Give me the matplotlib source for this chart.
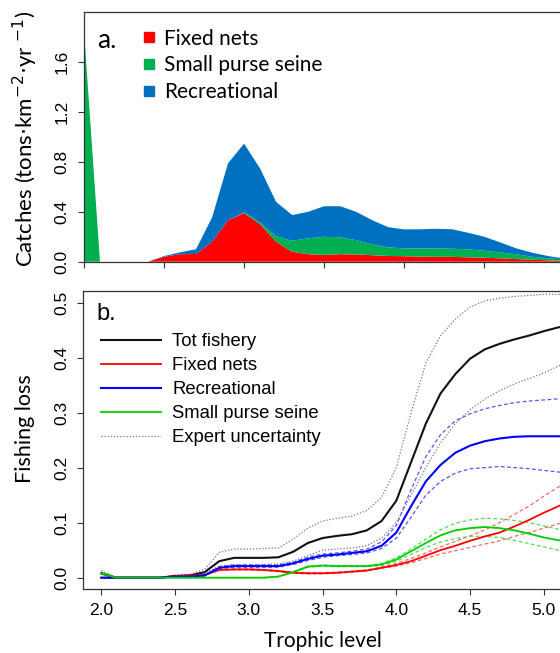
import matplotlib
matplotlib.use("Agg")
import matplotlib.pyplot as plt
from matplotlib.lines import Line2D
import numpy as np

# ---------------- data ----------------
# Panel a: catches by trophic level (stacked)
tl_a = [2.0, 2.1, 2.2, 2.3, 2.4, 2.5, 2.6, 2.7, 2.8, 2.9, 3.0, 3.1, 3.2, 3.3, 3.4, 3.5,
        3.6, 3.7, 3.8, 3.9, 4.0, 4.1, 4.2, 4.3, 4.4, 4.5, 4.6, 4.7, 4.8, 4.9, 5.0, 5.1]
fixed_nets = [0, 0, 0, 0, 0, 0.04, 0.06, 0.062, 0.16, 0.333, 0.39, 0.30, 0.16, 0.08, 0.06, 0.055,
              0.06, 0.058, 0.052, 0.046, 0.044, 0.041, 0.040, 0.039, 0.035, 0.032, 0.027, 0.021,
              0.016, 0.011, 0.007, 0.004]
purse_seine = [1.85, 0, 0, 0, 0, 0, 0, 0, 0, 0, 0.005, 0.015, 0.045, 0.088, 0.127, 0.145,
               0.135, 0.115, 0.087, 0.069, 0.063, 0.066, 0.067, 0.065, 0.064, 0.056, 0.048,
               0.038, 0.024, 0.016, 0.011, 0.006]
recreational = [0, 0, 0, 0, 0, 0.005, 0.015, 0.038, 0.195, 0.457, 0.552, 0.432, 0.275, 0.206,
                0.213, 0.245, 0.25, 0.227, 0.194, 0.162, 0.152, 0.153, 0.157, 0.156, 0.133,
                0.112, 0.08, 0.048, 0.032, 0.018, 0.007, 0.005]
labels_a = ["Fixed nets", "Small purse seine", "Recreational"]
colors_a = ["#FF0000", "#00B050", "#0070C0"]

# Panel b: fishing loss by trophic level
tl_b = [2.0, 2.1, 2.2, 2.3, 2.4, 2.5, 2.6, 2.7, 2.8, 2.9, 3.0, 3.1, 3.2, 3.3, 3.4, 3.5, 3.6,
        3.7, 3.8, 3.9, 4.0, 4.1, 4.2, 4.3, 4.4, 4.5, 4.6, 4.7, 4.8, 4.9, 5.0, 5.1, 5.2]
tot = [0.008, 0, 0, 0, 0, 0.003, 0.004, 0.01, 0.03, 0.036, 0.036, 0.036, 0.037, 0.047, 0.063,
       0.072, 0.076, 0.079, 0.086, 0.103, 0.14, 0.21, 0.28, 0.335, 0.37, 0.398, 0.415, 0.425,
       0.433, 0.44, 0.448, 0.455, 0.46]
tot_hi = [0.013, 0, 0, 0, 0, 0.005, 0.006, 0.015, 0.046, 0.052, 0.052, 0.053, 0.054, 0.07, 0.09,
          0.103, 0.108, 0.112, 0.122, 0.146, 0.2, 0.3, 0.39, 0.44, 0.47, 0.492, 0.503, 0.508,
          0.511, 0.513, 0.515, 0.515, 0.515]
tot_lo = [0.006, 0, 0, 0, 0, 0.002, 0.003, 0.008, 0.021, 0.024, 0.024, 0.024, 0.025, 0.03, 0.04,
          0.05, 0.052, 0.054, 0.058, 0.072, 0.1, 0.15, 0.2, 0.245, 0.28, 0.305, 0.325, 0.34,
          0.352, 0.362, 0.372, 0.385, 0.395]
rec = [0, 0, 0, 0, 0, 0.002, 0.002, 0.004, 0.018, 0.021, 0.021, 0.021, 0.021, 0.026, 0.034, 0.04,
       0.042, 0.045, 0.048, 0.058, 0.082, 0.13, 0.175, 0.205, 0.227, 0.24, 0.248, 0.253, 0.256,
       0.257, 0.257, 0.257, 0.257]
rec_hi = [0, 0, 0, 0, 0, 0.002, 0.003, 0.005, 0.02, 0.023, 0.023, 0.023, 0.023, 0.028, 0.037,
          0.043, 0.045, 0.048, 0.052, 0.065, 0.095, 0.16, 0.22, 0.26, 0.285, 0.298, 0.307, 0.313,
          0.318, 0.321, 0.323, 0.325, 0.326]
rec_lo = [0, 0, 0, 0, 0, 0.002, 0.002, 0.003, 0.016, 0.019, 0.019, 0.019, 0.019, 0.024, 0.031,
          0.037, 0.04, 0.042, 0.045, 0.053, 0.072, 0.11, 0.15, 0.175, 0.19, 0.198, 0.2, 0.202,
          0.2, 0.198, 0.195, 0.192, 0.19]
fix = [0, 0, 0, 0, 0, 0.003, 0.004, 0.005, 0.014, 0.015, 0.015, 0.014, 0.012, 0.009, 0.008, 0.008,
       0.009, 0.011, 0.013, 0.018, 0.023, 0.03, 0.04, 0.05, 0.058, 0.067, 0.075, 0.082, 0.093,
       0.105, 0.118, 0.13, 0.143]
fix_hi = [0, 0, 0, 0, 0, 0.003, 0.004, 0.005, 0.015, 0.016, 0.016, 0.015, 0.013, 0.01, 0.009,
          0.009, 0.01, 0.012, 0.014, 0.019, 0.026, 0.035, 0.045, 0.056, 0.066, 0.076, 0.087, 0.1,
          0.115, 0.13, 0.148, 0.165, 0.182]
fix_lo = [0, 0, 0, 0, 0, 0.003, 0.004, 0.005, 0.013, 0.014, 0.014, 0.013, 0.011, 0.008, 0.007,
          0.007, 0.008, 0.01, 0.012, 0.017, 0.021, 0.027, 0.035, 0.043, 0.049, 0.055, 0.061,
          0.067, 0.075, 0.082, 0.09, 0.098, 0.106]
sps = [0.008, 0, 0, 0, 0, 0, 0, 0, 0, 0, 0, 0, 0.002, 0.01, 0.02, 0.022, 0.021, 0.021, 0.021,
       0.024, 0.033, 0.048, 0.063, 0.077, 0.086, 0.09, 0.092, 0.09, 0.086, 0.08, 0.073, 0.068, 0.063]
sps_hi = [0.01, 0, 0, 0, 0, 0, 0, 0, 0, 0, 0, 0, 0.002, 0.011, 0.021, 0.023, 0.022, 0.022, 0.022,
          0.026, 0.036, 0.052, 0.07, 0.087, 0.099, 0.105, 0.108, 0.107, 0.104, 0.1, 0.094, 0.088, 0.082]
sps_lo = [0.006, 0, 0, 0, 0, 0, 0, 0, 0, 0, 0, 0, 0.002, 0.009, 0.019, 0.021, 0.02, 0.02, 0.02,
          0.022, 0.03, 0.042, 0.055, 0.065, 0.071, 0.075, 0.075, 0.073, 0.068, 0.062, 0.056, 0.05, 0.045]
labels_b = ["Tot fishery", "Fixed nets", "Recreational", "Small purse seine", "Expert uncertainty"]

yticks_a = [0.0, 0.4, 0.8, 1.2, 1.6]
yticks_b = [0.0, 0.1, 0.2, 0.3, 0.4, 0.5]
xticks = [2.0, 2.5, 3.0, 3.5, 4.0, 4.5, 5.0]

# ---------------- figure ----------------
W, H = 560, 653
fig = plt.figure(figsize=(W / 100, H / 100), dpi=100)

def fx(px):
    return px / W

def fy(py):
    return 1 - py / H

CAL = ["Lato", "DejaVu Sans"]
ARI = ["Liberation Sans", "DejaVu Sans"]
spine_c = "#333333"

ax1 = fig.add_axes([fx(84), fy(261.7), fx(592 - 84), (261.7 - 12.3) / H])
ax2 = fig.add_axes([fx(83.2), fy(589), fx(592 - 83.2), (589 - 291) / H])

# ---- panel a ----
ax1.stackplot(tl_a, fixed_nets, purse_seine, recreational, colors=colors_a, lw=0)
ax1.set_xlim(2.0, 2.0 + (592 - 84.3) / 160)
ax1.set_ylim(0, 2.0)
ax1.set_xticks(xticks)
ax1.set_xticklabels([])
ax1.set_yticks(yticks_a)
ax1.set_yticklabels([f"{v:.1f}" for v in yticks_a], rotation=90, va="center",
                    family=ARI, fontsize=12.5)

handles_a = [Line2D([], [], marker="s", ls="none", color=c, markersize=7.5) for c in colors_a]
ax1.legend(handles_a, labels_a, loc="upper left", bbox_to_anchor=(0.1136, 0.935),
           frameon=False, prop={"family": CAL, "size": 15}, handlelength=0.7,
           handletextpad=0.37, labelspacing=0.33, borderpad=0, borderaxespad=0)
ax1.text(fx(107), fy(40), "a.", transform=fig.transFigure, ha="center", va="center",
         family=CAL, fontsize=19)

# ---- panel b ----
ax2.plot(tl_b, tot_hi, color="#777777", lw=0.9, ls=(0, (1, 1.5)))
ax2.plot(tl_b, tot_lo, color="#777777", lw=0.9, ls=(0, (1, 1.5)))
ax2.plot(tl_b, rec_hi, color="#5555FF", lw=0.9, ls=(0, (3, 2)))
ax2.plot(tl_b, rec_lo, color="#5555FF", lw=0.9, ls=(0, (3, 2)))
ax2.plot(tl_b, fix_hi, color="#FF6666", lw=0.9, ls=(0, (3, 2)))
ax2.plot(tl_b, fix_lo, color="#FF6666", lw=0.9, ls=(0, (3, 2)))
ax2.plot(tl_b, sps_hi, color="#55DD55", lw=0.9, ls=(0, (3, 2)))
ax2.plot(tl_b, sps_lo, color="#55DD55", lw=0.9, ls=(0, (3, 2)))
l_tot, = ax2.plot(tl_b, tot, color="#111111", lw=1.5)
l_fix, = ax2.plot(tl_b, fix, color="#FF0000", lw=1.3)
l_rec, = ax2.plot(tl_b, rec, color="#0000FF", lw=1.5)
l_sps, = ax2.plot(tl_b, sps, color="#00CC00", lw=1.3)
l_unc = Line2D([], [], color="#777777", lw=0.9, ls=(0, (1, 1.5)))
ax2.set_xlim(1.877, 1.877 + (592 - 83.2) / 147.5)
ax2.set_ylim(-0.0206, 0.521)
ax2.set_xticks(xticks)
ax2.set_xticklabels([f"{v:.1f}" for v in xticks], family=ARI, fontsize=12.5)
ax2.set_yticks(yticks_b)
ax2.set_yticklabels([f"{v:.1f}" for v in yticks_b], rotation=90, va="center",
                    family=ARI, fontsize=12.5)
ax2.legend([l_tot, l_fix, l_rec, l_sps, l_unc], labels_b, loc="upper left",
           bbox_to_anchor=(0.035, 0.859), frameon=False,
           prop={"family": ARI, "size": 13.3}, handlelength=3.25, handletextpad=0.6,
           labelspacing=0.38, borderpad=0, borderaxespad=0)
ax2.text(fx(106), fy(314), "b.", transform=fig.transFigure, ha="center", va="center",
         family=ARI, fontsize=17)

for ax in (ax1, ax2):
    for s in ax.spines.values():
        s.set_color(spine_c)
        s.set_linewidth(0.9)
    ax.tick_params(direction="out", length=4.3, width=0.8, color=spine_c, pad=6)

# axis titles
fig.text(fx(25), fy(139), r"Catches (tons$\cdot$km$^{-2}$$\cdot$yr $^{-1}$)", rotation=90,
         ha="center", va="center", family=CAL, fontsize=16)
fig.text(fx(25), fy(429), "Fishing loss", rotation=90, ha="center", va="center",
         family=CAL, fontsize=15.5)
fig.text(fx(323), fy(641), "Trophic level", ha="center", va="center", family=CAL, fontsize=15)

fig.savefig("out.png", dpi=100)
